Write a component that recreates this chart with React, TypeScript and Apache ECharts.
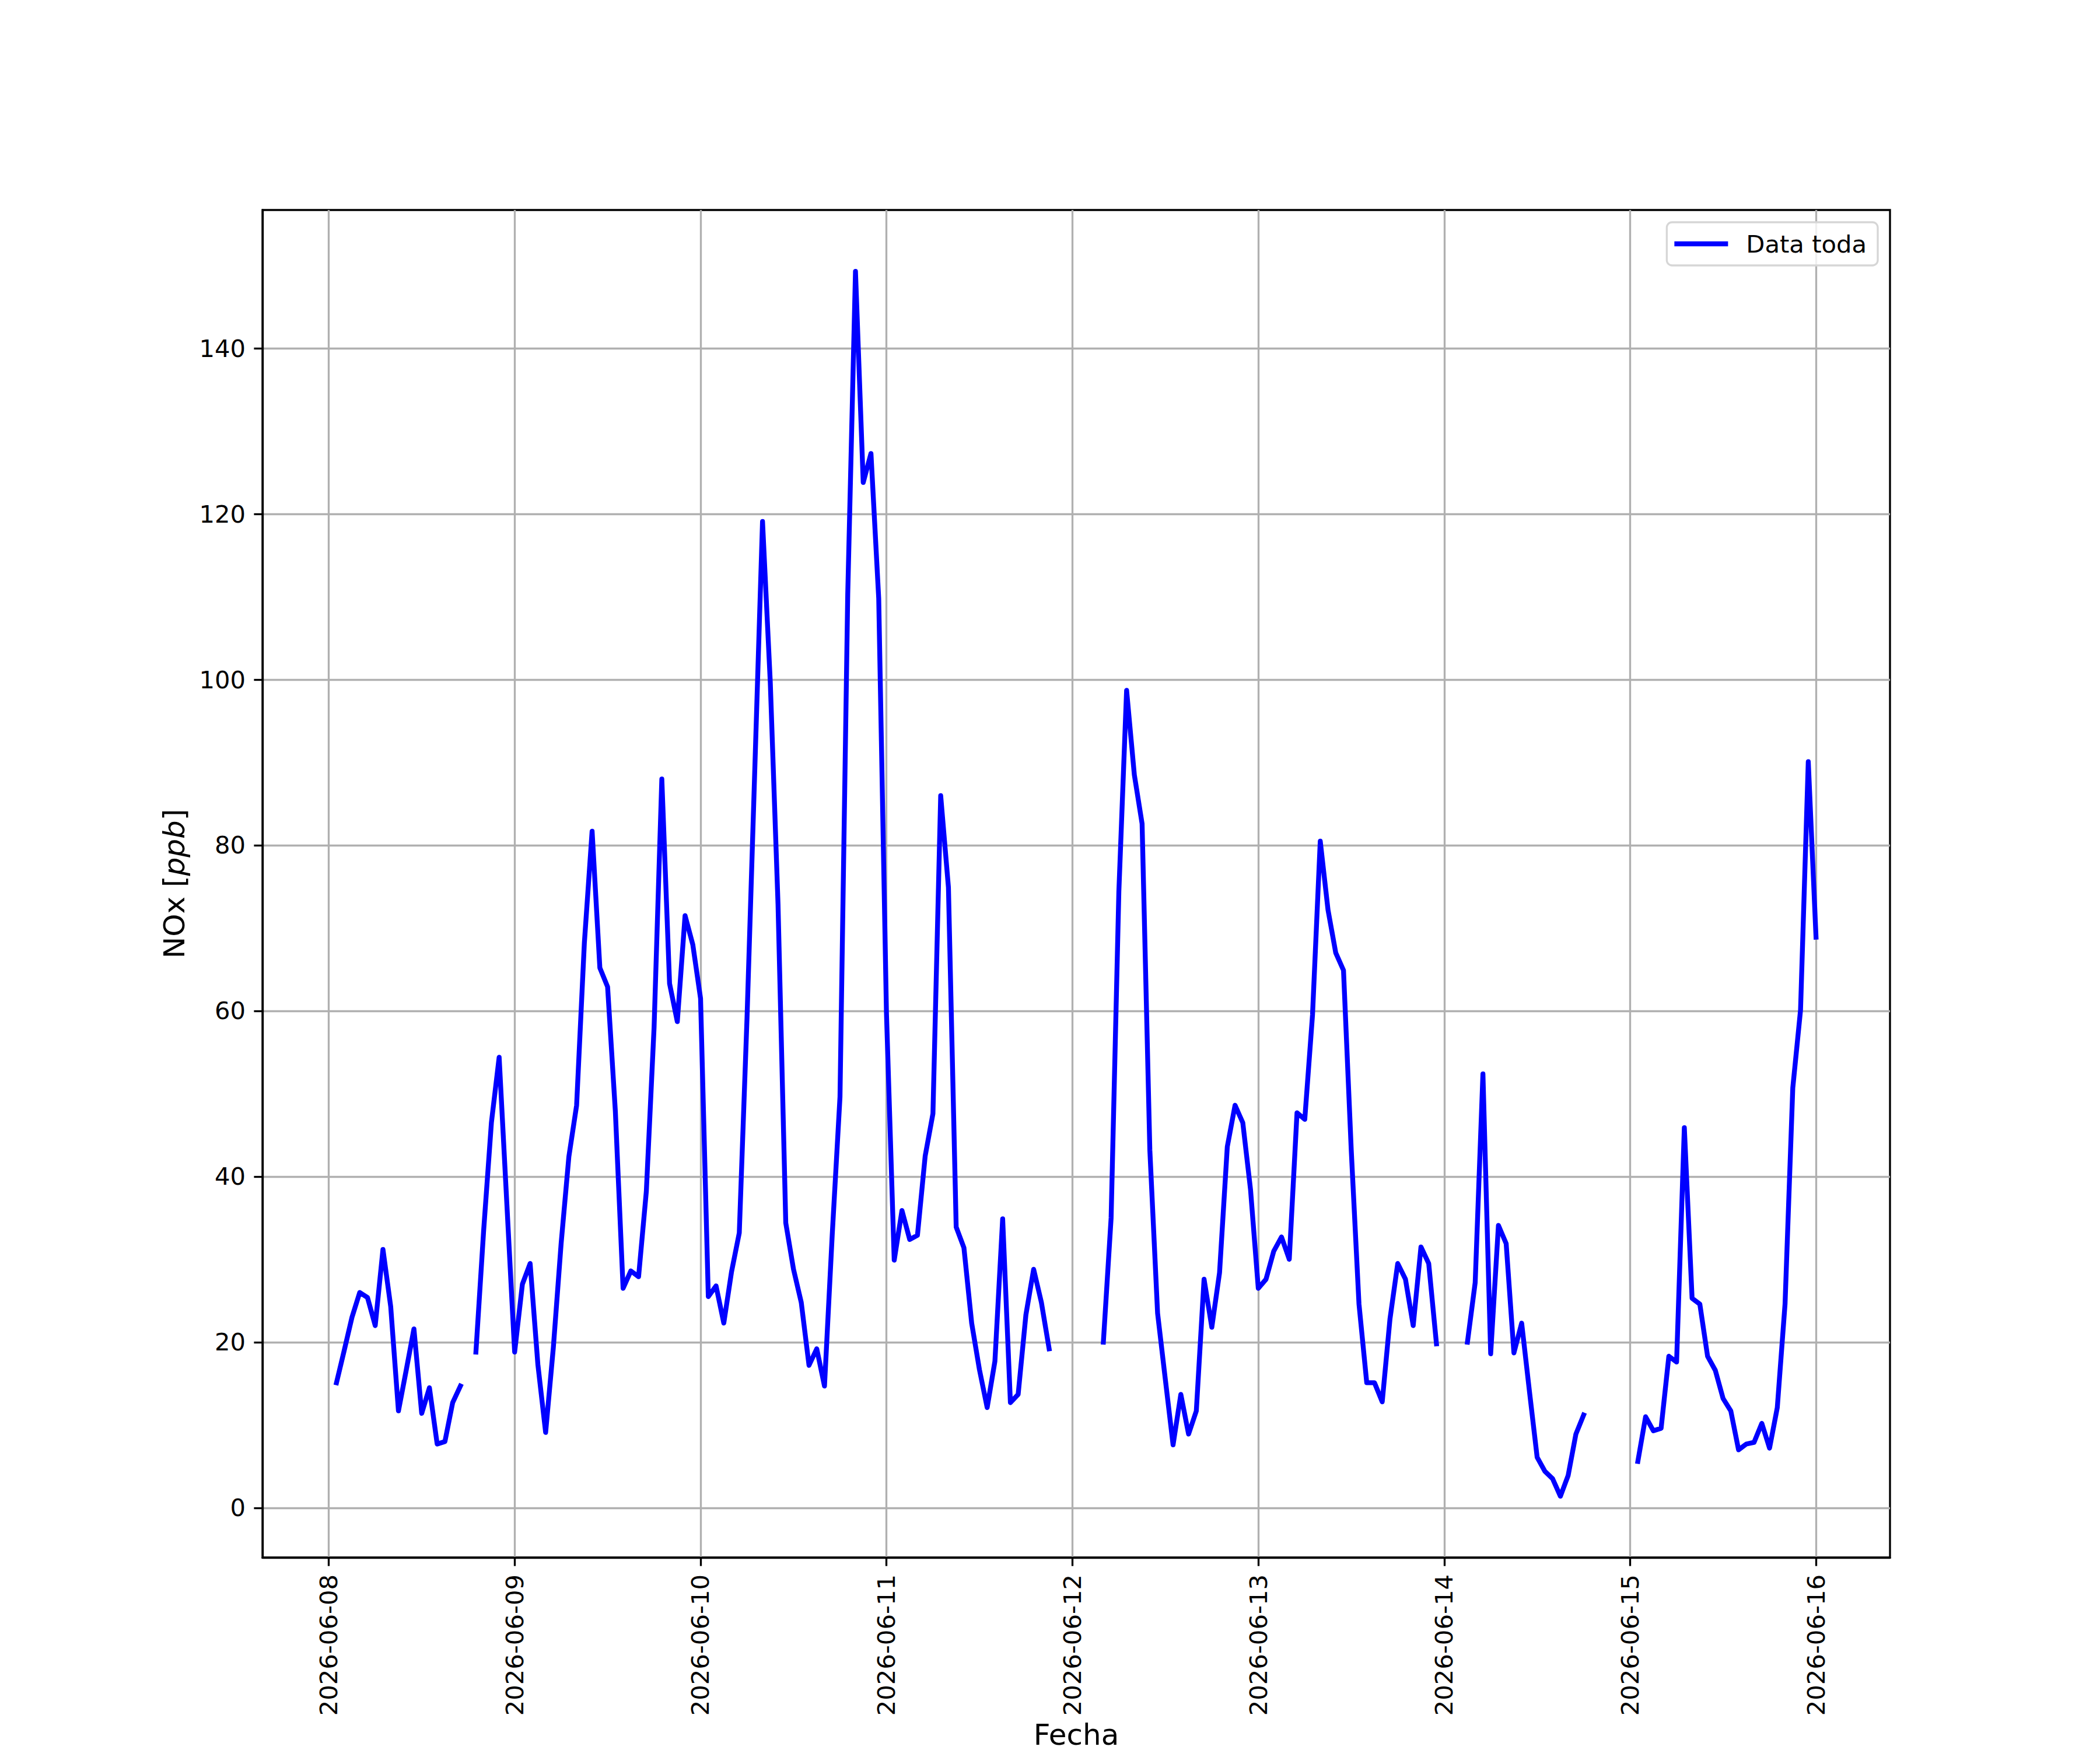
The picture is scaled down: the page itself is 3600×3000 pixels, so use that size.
import React, { useEffect, useRef } from "react";
import * as echarts from "echarts";

// Hourly NOx [ppb] values per day (index = hour 0..23), null = no data
const days = ["2026-06-08", "2026-06-09", "2026-06-10", "2026-06-11", "2026-06-12", "2026-06-13", "2026-06-14", "2026-06-15", "2026-06-16"];

const nox0608 = [null, 15.1, 19.0, 23.0, 26.0, 25.4, 22.0, 31.2, 24.3, 11.7, 16.6, 21.6, 11.4, 14.5, 7.7, 8.0, 12.7, 14.7, null, 18.8, 33.5, 46.5, 54.4, 36.6];
const nox0609 = [18.8, 27.0, 29.5, 17.3, 9.1, 19.4, 31.9, 42.4, 48.6, 68.2, 81.7, 65.2, 62.9, 47.9, 26.5, 28.6, 27.9, 38.2, 58.0, 88.0, 63.3, 58.7, 71.5, 68.0];
const nox0610 = [61.5, 25.5, 26.8, 22.3, 28.5, 33.2, 59.2, 89.1, 119.1, 99.7, 72.9, 34.4, 28.8, 24.8, 17.2, 19.2, 14.7, 33.0, 49.6, 110.3, 149.3, 123.8, 127.3, 109.8];
const nox0611 = [59.7, 29.9, 35.9, 32.4, 32.9, 42.5, 47.6, 86.0, 74.9, 33.9, 31.4, 22.3, 16.7, 12.1, 17.7, 34.9, 12.7, 13.7, 23.3, 28.8, 24.8, 19.2, null, null];
const nox0612 = [null, null, null, null, 20.0, 35.0, 74.4, 98.7, 88.5, 82.6, 43.2, 23.5, 15.5, 7.6, 13.7, 8.9, 11.7, 27.6, 21.8, 28.4, 43.6, 48.6, 46.5, 38.4];
const nox0613 = [26.5, 27.6, 31.0, 32.7, 30.0, 47.7, 46.9, 59.5, 80.5, 72.2, 67.0, 64.9, 43.2, 24.6, 15.1, 15.1, 12.8, 22.8, 29.5, 27.6, 22.0, 31.5, 29.5, 19.8];
const nox0614 = [null, null, null, 20.0, 27.2, 52.4, 18.6, 34.1, 31.9, 18.7, 22.3, 14.1, 6.1, 4.4, 3.5, 1.4, 3.9, 8.9, 11.2, null, null, null, null, null];
const nox0615 = [null, 5.6, 11.0, 9.3, 9.6, 18.3, 17.6, 45.9, 25.3, 24.6, 18.3, 16.6, 13.2, 11.7, 7.0, 7.7, 7.9, 10.2, 7.2, 12.1, 24.6, 50.7, 60.1, 90.1];
const nox0616 = [68.9];

const dailySeries = [nox0608, nox0609, nox0610, nox0611, nox0612, nox0613, nox0614, nox0615, nox0616];
const tickDays = ["2026-06-08", "2026-06-09", "2026-06-10", "2026-06-11", "2026-06-12", "2026-06-13", "2026-06-14", "2026-06-15", "2026-06-16"];
const yTicks = [0, 20, 40, 60, 80, 100, 120, 140];

const seriesName = "Data toda";
const xTitle = "Fecha";

const dayStart = (s: string) => {
  const [y, m, d] = s.split("-").map(Number);
  return Date.UTC(y, m - 1, d);
};
const HOUR = 3600 * 1000;
const pad = (n: number) => (n < 10 ? "0" + n : "" + n);

export default function App() {
  const ref = useRef<HTMLDivElement>(null);

  useEffect(() => {
    if (!ref.current) return;
    const chart = echarts.init(ref.current, null, { renderer: "svg" });

    const data: any[] = [];
    dailySeries.forEach((vals, di) => {
      const base = dayStart(days[di]);
      vals.forEach((v, h) => {
        data.push([base + h * HOUR, v === null ? "-" : v]);
      });
    });

    const font = "DejaVu Sans";
    const fs = 41.7;
    const fsLabel = 50;
    const lw = 3.33;
    const xTickVals = tickDays.map(dayStart);

    chart.setOption({
      animation: false,
      backgroundColor: "#ffffff",
      textStyle: { fontFamily: font },
      grid: {
        left: 450,
        right: 360,
        top: 360,
        bottom: 330,
        show: true,
        borderColor: "#000000",
        borderWidth: lw,
        backgroundColor: "transparent",
        containLabel: false,
        outerBoundsMode: "none",
      },
      legend: {
        show: true,
        right: 381,
        top: 381,
        icon: "rect",
        itemWidth: 92,
        itemHeight: 8.3,
        padding: [16, 19, 16, 13],
        borderColor: "#d6d6d6",
        borderWidth: 3.3,
        borderRadius: 9,
        backgroundColor: "rgba(255,255,255,0.8)",
        textStyle: { fontFamily: font, fontSize: fs, color: "#000000", padding: [0, 0, 0, 26] },
        data: [seriesName],
      },
      xAxis: {
        type: "value",
        min: dayStart("2026-06-07") + 15.45 * HOUR,
        max: dayStart("2026-06-16") + 9.55 * HOUR,
        name: xTitle,
        nameLocation: "middle",
        nameGap: 262,
        nameTextStyle: { fontFamily: font, fontSize: fsLabel, color: "#000000", lineHeight: 50 },
        axisLine: { show: true, onZero: false, lineStyle: { color: "#000000", width: lw } },
        axisTick: {
          show: true,
          length: 14.6,
          lineStyle: { color: "#000000", width: lw },
          customValues: xTickVals,
        },
        axisLabel: {
          show: true,
          rotate: 90,
          margin: 29,
          fontFamily: font,
          fontSize: fs,
          color: "#000000",
          customValues: xTickVals,
          formatter: (v: number) => {
            const d = new Date(v);
            return d.getUTCFullYear() + "-" + pad(d.getUTCMonth() + 1) + "-" + pad(d.getUTCDate());
          },
        },
        splitLine: { show: true, lineStyle: { color: "#b0b0b0", width: lw } },
      },
      yAxis: {
        type: "value",
        min: -6.0,
        max: 156.7,
        name: "{n|NOx [}{i|ppb}{n|]}",
        nameLocation: "middle",
        nameRotate: 90,
        nameGap: 126,
        nameTextStyle: {
          fontFamily: font,
          fontSize: fsLabel,
          color: "#000000",
          rich: {
            n: { fontFamily: font, fontSize: fsLabel, color: "#000000" },
            i: { fontFamily: font, fontSize: fsLabel, color: "#000000", fontStyle: "italic" },
          },
        },
        axisLine: { show: true, onZero: false, lineStyle: { color: "#000000", width: lw } },
        axisTick: {
          show: true,
          length: 14.6,
          lineStyle: { color: "#000000", width: lw },
          customValues: yTicks,
        },
        axisLabel: {
          show: true,
          margin: 29,
          fontFamily: font,
          fontSize: fs,
          color: "#000000",
          customValues: yTicks,
        },
        splitLine: { show: true, lineStyle: { color: "#b0b0b0", width: lw } },
      },
      series: [
        {
          name: seriesName,
          type: "line",
          data,
          showSymbol: false,
          connectNulls: false,
          color: "#0000ff",
          lineStyle: { color: "#0000ff", width: 8.33, join: "round", cap: "square" },
          z: 3,
        },
      ],
    });

    return () => chart.dispose();
  }, []);

  return (
    <div
      ref={ref}
      style={{ position: "absolute", left: 0, top: 0, width: 3600, height: 3000, background: "#ffffff" }}
    />
  );
}
